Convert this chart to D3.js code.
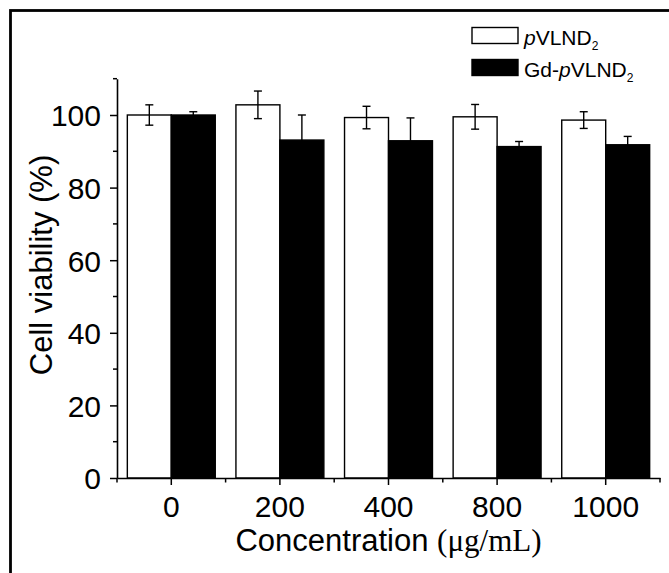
<!DOCTYPE html>
<html>
<head>
<meta charset="utf-8">
<script src="https://cdn.jsdelivr.net/npm/d3@7"></script>
<style>
  html, body { margin: 0; padding: 0; background: #fff; }
  svg { display: block; }
</style>
</head>
<body>
<svg id="chart" width="669" height="573"></svg>
<script>
// Cell viability after incubation with the nanoparticles
const categories = ["0", "200", "400", "800", "1000"];
const series = ["pVLND2", "Gd-pVLND2"];
const viabilityPlain = [100, 102.8, 99.3, 99.5, 98.6];
const viabilityGd = [100, 93.1, 92.9, 91.3, 91.8];
const errorPlain = [2.8, 3.8, 3.1, 3.4, 2.3];
const errorGd = [0.9, 6.9, 6.3, 1.4, 2.3];
const yMajorTicks = [0, 20, 40, 60, 80, 100];
const yMinorTicks = [10, 30, 50, 70, 90, 110];

const values = { "pVLND2": viabilityPlain, "Gd-pVLND2": viabilityGd };
const errors = { "pVLND2": errorPlain, "Gd-pVLND2": errorGd };
const fills = { "pVLND2": "#fff", "Gd-pVLND2": "#000" };

const sans = "'Liberation Sans', Arial, sans-serif";
const serif = "'Liberation Serif', 'Times New Roman', serif";

const svg = d3.select("#chart");
const W = 669, H = 573;
const plot = { left: 117, right: 660, top: 78.7, bottom: 478 };

svg.append("rect").attr("width", W).attr("height", H).attr("fill", "#fff");

// outer frame (runs past the right and bottom edges)
svg.append("rect")
  .attr("x", 10.5).attr("y", 10.5)
  .attr("width", W + 20).attr("height", H + 20)
  .attr("fill", "none").attr("stroke", "#000").attr("stroke-width", 2.8);

const x = d3.scaleBand().domain(categories).range([plot.left, plot.right]).padding(0);
const xSub = d3.scaleBand().domain(series).range([0, x.bandwidth()])
  .paddingInner(0).paddingOuter(0.235);
const y = d3.scaleLinear().domain([0, 110]).range([plot.bottom, plot.top]);

const rows = categories.map((c, i) => series.map(s => ({
  cat: c, s, v: values[s][i], e: errors[s][i]
}))).flat();

// bars
const g = svg.append("g");
g.selectAll("rect.bar").data(rows).join("rect")
  .attr("class", "bar")
  .attr("x", d => x(d.cat) + xSub(d.s))
  .attr("y", d => y(d.v))
  .attr("width", xSub.bandwidth())
  .attr("height", d => y(0) - y(d.v))
  .attr("fill", d => fills[d.s])
  .attr("stroke", "#000").attr("stroke-width", 1.4);

// error bars
const cap = 4;
const eb = g.selectAll("g.err").data(rows).join("g").attr("class", "err")
  .attr("stroke", "#000").attr("stroke-width", 1.4);
eb.append("line")
  .attr("x1", d => x(d.cat) + xSub(d.s) + xSub.bandwidth() / 2)
  .attr("x2", d => x(d.cat) + xSub(d.s) + xSub.bandwidth() / 2)
  .attr("y1", d => y(d.v + d.e)).attr("y2", d => y(d.v - d.e));
eb.append("line")
  .attr("x1", d => x(d.cat) + xSub(d.s) + xSub.bandwidth() / 2 - cap)
  .attr("x2", d => x(d.cat) + xSub(d.s) + xSub.bandwidth() / 2 + cap)
  .attr("y1", d => y(d.v + d.e)).attr("y2", d => y(d.v + d.e));
eb.append("line")
  .attr("x1", d => x(d.cat) + xSub(d.s) + xSub.bandwidth() / 2 - cap)
  .attr("x2", d => x(d.cat) + xSub(d.s) + xSub.bandwidth() / 2 + cap)
  .attr("y1", d => y(d.v - d.e)).attr("y2", d => y(d.v - d.e));

// y axis
const yAxis = svg.append("g")
  .attr("transform", `translate(${plot.left},0)`)
  .call(d3.axisLeft(y).tickValues(yMajorTicks).tickSize(7).tickSizeOuter(0).tickPadding(9));
yAxis.selectAll(".tick line").attr("stroke-width", 1.5);
yAxis.select(".domain").attr("stroke-width", 1.6);
yAxis.selectAll(".tick text").attr("font-family", sans).attr("font-size", 30).attr("fill", "#000")
  .attr("dy", "0.36em");
yAxis.selectAll("line.minor").data(yMinorTicks).join("line").attr("class", "minor")
  .attr("x1", -4).attr("x2", 0)
  .attr("y1", d => y(d)).attr("y2", d => y(d))
  .attr("stroke", "#000").attr("stroke-width", 1.5);

// x axis
const xAxis = svg.append("g")
  .attr("transform", `translate(0,${plot.bottom})`)
  .call(d3.axisBottom(x).tickSize(7).tickSizeOuter(0));
xAxis.selectAll(".tick line").attr("stroke-width", 1.5);
xAxis.select(".domain").attr("stroke-width", 1.6);
xAxis.selectAll(".tick text").attr("font-family", sans).attr("font-size", 30).attr("fill", "#000")
  .attr("y", 39).attr("dy", 0);
const bounds = categories.map(c => x(c)).concat([x.range()[1]]);
xAxis.selectAll("line.minor").data(bounds).join("line").attr("class", "minor")
  .attr("x1", d => d).attr("x2", d => d)
  .attr("y1", 0).attr("y2", 4.5)
  .attr("stroke", "#000").attr("stroke-width", 1.5);

// axis titles
const xt = svg.append("text")
  .attr("x", (plot.left + plot.right) / 2).attr("y", 551)
  .attr("text-anchor", "middle").attr("font-size", 31).attr("fill", "#000");
xt.append("tspan").attr("font-family", sans).text("Concentration ");
xt.append("tspan").attr("font-family", serif).text("(μg/mL)");

svg.append("text")
  .attr("transform", "translate(52,265) rotate(-90)")
  .attr("text-anchor", "middle")
  .attr("font-family", sans).attr("font-size", 31).attr("fill", "#000")
  .text("Cell viability (%)");

// legend
const legendItems = [
  { s: "pVLND2", prefix: "", y: 27.5 },
  { s: "Gd-pVLND2", prefix: "Gd-", y: 59.5 }
];
const lg = svg.append("g");
legendItems.forEach(it => {
  lg.append("rect")
    .attr("x", 472).attr("y", it.y).attr("width", 46).attr("height", 16)
    .attr("fill", fills[it.s]).attr("stroke", "#000").attr("stroke-width", 1.4);
  const t = lg.append("text")
    .attr("x", 524).attr("y", it.y + 17.5)
    .attr("font-family", sans).attr("font-size", 21).attr("fill", "#000");
  if (it.prefix) t.append("tspan").text(it.prefix);
  t.append("tspan").attr("font-style", "italic").text("p");
  t.append("tspan").text("VLND");
  t.append("tspan").attr("font-size", 12).attr("dy", 5).text("2");
});
</script>
</body>
</html>
